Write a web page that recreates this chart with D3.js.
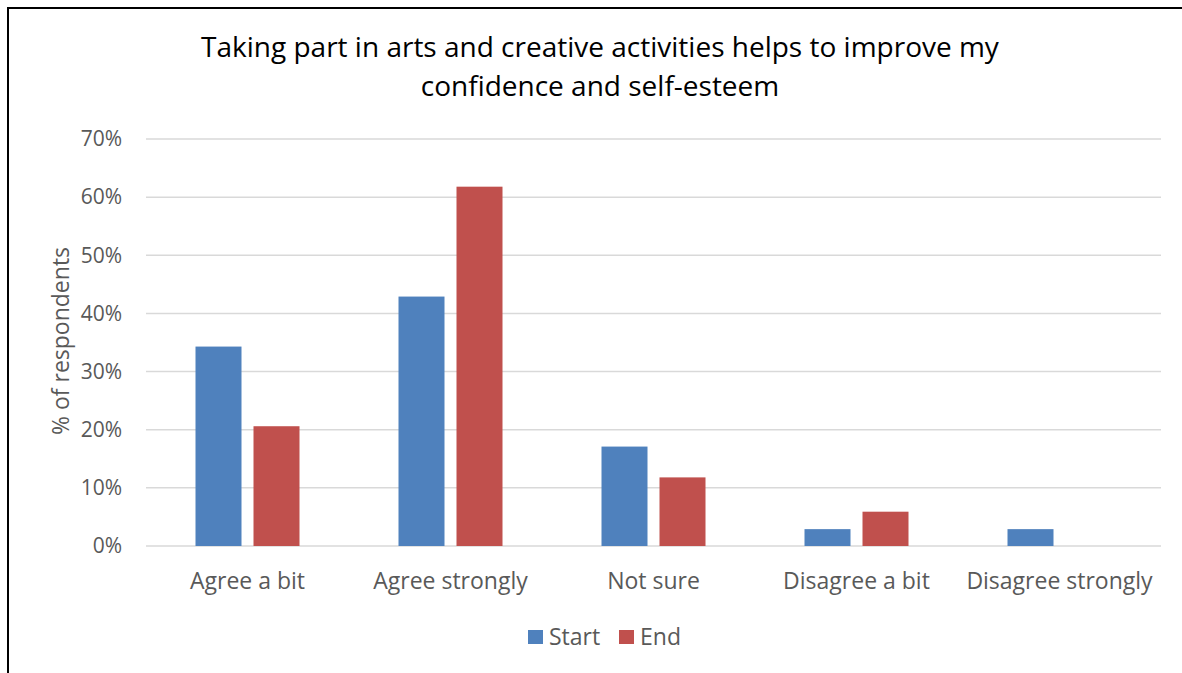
<!DOCTYPE html>
<html>
<head>
<meta charset="utf-8">
<script src="https://cdn.jsdelivr.net/npm/d3@7"></script>
<style>
  body { margin: 0; background: #fff; }
  svg text { font-family: "Open Sans", Lato, sans-serif; fill: #595959; }
</style>
</head>
<body>
<svg id="chart" width="1182" height="673"></svg>
<script>
const categories = ["Agree a bit", "Agree strongly", "Not sure", "Disagree a bit", "Disagree strongly"];
const seriesNames = ["Start", "End"];
const startValues = [34.3, 42.9, 17.1, 2.9, 2.9];
const endValues = [20.6, 61.8, 11.8, 5.9, 0];
const yTicks = [0, 10, 20, 30, 40, 50, 60, 70];
const titleLines = ["Taking part in arts and creative activities helps to improve my", "confidence and self-esteem"];
const yAxisTitle = "% of respondents";

const colors = { Start: "#4f81bd", End: "#c0504d" };

const svg = d3.select("#chart");

// outer frame (right and bottom edges fall outside the picture)
svg.append("rect")
    .attr("x", 8).attr("y", 8)
    .attr("width", 1200).attr("height", 700)
    .attr("fill", "none")
    .attr("stroke", "#000")
    .attr("stroke-width", 2);

const plot = { left: 146, right: 1161, top: 139, bottom: 546 };

const x = d3.scaleBand()
    .domain(categories)
    .range([plot.left, plot.right]);

const y = d3.scaleLinear()
    .domain([0, 70])
    .range([plot.bottom, plot.top]);

const g = svg.append("g");

// gridlines
g.selectAll("line.grid")
    .data(yTicks)
    .join("line")
    .attr("class", "grid")
    .attr("x1", plot.left).attr("x2", plot.right)
    .attr("y1", (d) => y(d)).attr("y2", (d) => y(d))
    .attr("stroke", "#d9d9d9")
    .attr("stroke-width", 1.5);

// y tick labels
g.selectAll("text.ytick")
    .data(yTicks)
    .join("text")
    .attr("class", "ytick")
    .attr("x", 122)
    .attr("y", (d) => y(d))
    .attr("dy", "0.35em")
    .attr("text-anchor", "end")
    .style("font-size", "21px")
    .text((d) => d + "%");

// bars
const barW = 46, gap = 12;
const rows = categories.map((c, i) => ({ cat: c, Start: startValues[i], End: endValues[i] }));
const bars = rows.flatMap((r) => seriesNames.map((s, j) => ({ cat: r.cat, series: s, j, value: r[s] })));

g.selectAll("rect.bar")
    .data(bars.filter((b) => b.value > 0))
    .join("rect")
    .attr("class", "bar")
    .attr("x", (d) => x(d.cat) + x.bandwidth() / 2 + (d.j === 0 ? -gap / 2 - barW : gap / 2))
    .attr("y", (d) => y(d.value))
    .attr("width", barW)
    .attr("height", (d) => y(0) - y(d.value))
    .attr("fill", (d) => colors[d.series]);

// category labels
g.selectAll("text.xcat")
    .data(categories)
    .join("text")
    .attr("class", "xcat")
    .attr("x", (d) => x(d) + x.bandwidth() / 2)
    .attr("y", 589)
    .attr("text-anchor", "middle")
    .style("font-size", "23px")
    .text((d) => d);

// y axis title
svg.append("text")
    .attr("transform", "translate(69,341) rotate(-90)")
    .attr("text-anchor", "middle")
    .style("font-size", "23px")
    .text(yAxisTitle);

// title
svg.append("text")
    .attr("x", 600)
    .attr("text-anchor", "middle")
    .style("font-size", "28px")
    .style("fill", "#000")
    .selectAll("tspan")
    .data(titleLines)
    .join("tspan")
    .attr("x", 600)
    .attr("y", (d, i) => 57 + i * 39)
    .text((d) => d);

// legend
const legend = svg.append("g");
const legendItems = [{ name: "Start", x: 528 }, { name: "End", x: 619 }];
legend.selectAll("rect")
    .data(legendItems)
    .join("rect")
    .attr("x", (d) => d.x).attr("y", 630)
    .attr("width", 15).attr("height", 14)
    .attr("fill", (d) => colors[d.name]);
legend.selectAll("text")
    .data(legendItems)
    .join("text")
    .attr("x", (d) => d.x + 21)
    .attr("y", 645)
    .style("font-size", "23px")
    .text((d) => d.name);
</script>
</body>
</html>
